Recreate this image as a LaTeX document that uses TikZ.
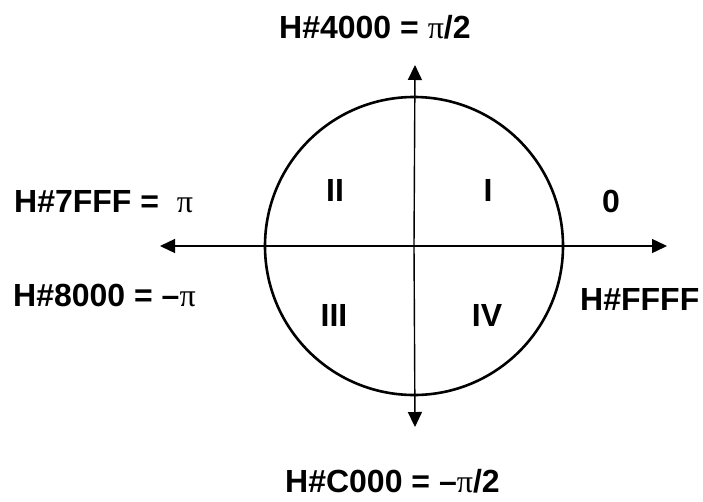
\documentclass[tikz,border=0pt]{standalone}
\usepackage{fontspec}
\setmainfont{Liberation Sans}
\newfontfamily\pifont{Liberation Serif}
\usetikzlibrary{arrows.meta}
\newcommand{\mypi}{{\pifont\mdseries π}}
\begin{document}
\begin{tikzpicture}[x=1pt,y=-1pt,
  lbl/.style={font=\fontsize{32}{36}\selectfont\bfseries, inner sep=0pt, anchor=base},
  axis/.style={line width=1.4pt, -{Triangle[length=15pt,width=14pt]}}]
\useasboundingbox (0,0) rectangle (703,501);
\coordinate (O) at (414,246);
\node[draw, circle, line width=2.6pt, minimum size=298pt, inner sep=0pt] (c) at (O) {};
\coordinate (L) at (160,246);
\coordinate (R) at (667,246);
\coordinate (T) at (415,65);
\coordinate (B) at (415,427);
\draw[axis] (O) -- (L);
\draw[axis] (O) -- (R);
\draw[axis] (O) -- (T);
\draw[axis] (O) -- (B);
\node[lbl, anchor=base west] (top) at (279,38) {H\#4000 = \mypi/2};
\node[lbl, anchor=base west] (bot) at (285,492) {H\#C000 = –\mypi/2};
\node[lbl, anchor=base west] (l1) at (14,212) {H\#7FFF = \ \mypi};
\node[lbl, anchor=base west] (l2) at (13,306) {H\#8000 = –\mypi};
\node[lbl] (zero) at (611,212) {0};
\node[lbl, anchor=base west] (ff) at (580,310) {H\#FFFF};
\node[lbl] (q2) at (335,201) {II};
\node[lbl] (q1) at (488,201) {I};
\node[lbl] (q3) at (334,326) {III};
\node[lbl] (q4) at (487,326) {IV};
\end{tikzpicture}
\end{document}
